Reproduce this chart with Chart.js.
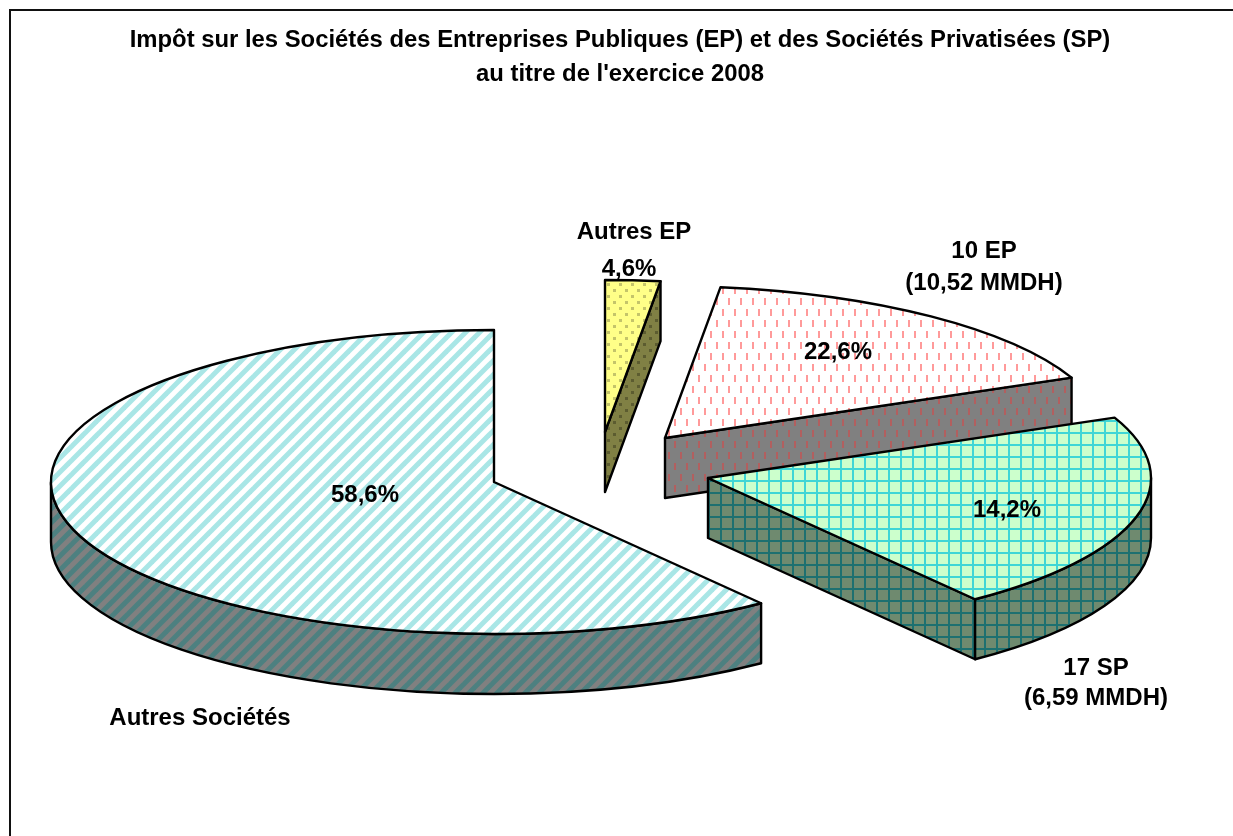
<!DOCTYPE html>
<html lang="fr">
<head>
<meta charset="utf-8">
<title>Impôt sur les Sociétés 2008</title>
<script src="https://cdn.jsdelivr.net/npm/chart.js@4"></script>
<style>
  html, body { margin: 0; padding: 0; background: #fff; }
  #wrap { position: relative; width: 1233px; height: 836px; overflow: hidden; }
  #frame { position: absolute; left: 9px; top: 9px; width: 1300px; height: 900px; border: 2px solid #111; }
  canvas { position: absolute; left: 0; top: 0; }
</style>
</head>
<body>
<div id="wrap">
  <div id="frame"></div>
  <canvas id="chart" width="1233" height="836"></canvas>
</div>
<script>
const titleLines = [
  "Impôt sur les Sociétés des Entreprises Publiques (EP) et des Sociétés Privatisées (SP)",
  "au titre de l'exercice 2008"
];
const categories = ['Autres EP', '10 EP', '17 SP', 'Autres Sociétés'];
// angles : ils ne suivent pas les pourcentages affichés
const sliceShares = [2.0, 16.5, 21.2, 60.3];
const percentLabels = ['4,6%', '22,6%', '14,2%', '58,6%'];
const amountLabels = ['', '(10,52 MMDH)', '(6,59 MMDH)', ''];

// Mise en page du faux 3D
const RADIUS = 443;
const SQUASH = 152 / 443;
const DEPTH = 60;
const apexes = [[605, 432], [665, 438], [708, 478], [494, 482]];
const drawOrder = [3, 0, 1, 2];
const FONT = 'bold 24px "Liberation Sans", Arial, sans-serif';
const percentPos = [[629, 269], [838, 352], [1007, 510], [365, 495]];
const namePos = [[634, 232], [984, 251], [1096, 668], [200, 718]];
const amountPos = [null, [984, 283], [1096, 698], null];

function makeTile(w, h, bg, paint) {
  const tile = document.createElement('canvas');
  tile.width = w;
  tile.height = h;
  const c = tile.getContext('2d');
  c.fillStyle = bg;
  c.fillRect(0, 0, w, h);
  paint(c);
  return document.getElementById('chart').getContext('2d').createPattern(tile, 'repeat');
}

function dots(bg, fg) {
  return makeTile(12, 12, bg, c => {
    c.fillStyle = fg;
    c.fillRect(1, 1, 3, 3);
    c.fillRect(7, 7, 3, 3);
  });
}

function dashes(bg, fg) {
  return makeTile(12, 22, bg, c => {
    c.fillStyle = fg;
    c.fillRect(2, 1, 2, 7);
    c.fillRect(8, 12, 2, 7);
  });
}

function grid(bg, fg) {
  return makeTile(12, 12, bg, c => {
    c.fillStyle = fg;
    c.fillRect(0, 0, 2, 12);
    c.fillRect(0, 0, 12, 2);
  });
}

function stripes(bg, fg) {
  return makeTile(14, 14, bg, c => {
    c.strokeStyle = fg;
    c.lineWidth = 5;
    [[-14, 14, 14, -14], [0, 14, 14, 0], [0, 28, 28, 0]].forEach(l => {
      c.beginPath();
      c.moveTo(l[0], l[1]);
      c.lineTo(l[2], l[3]);
      c.stroke();
    });
  });
}

const topFills = [
  dots('#ffff88', '#c4c46a'),
  dashes('#ffffff', '#ff9a9a'),
  grid('#ccffcc', '#3fd6d6'),
  stripes('#ffffff', '#a9e6e6')
];
const wallFills = [
  dots('#808044', '#5c5c30'),
  dashes('#808080', '#b25f5f'),
  grid('#6f8a6f', '#1d7070'),
  stripes('#808080', '#4d8080')
];

function pathTop(ctx, x, y, a0, a1) {
  ctx.beginPath();
  ctx.moveTo(x, y);
  ctx.ellipse(x, y, RADIUS, RADIUS * SQUASH, 0, a0, a1);
  ctx.closePath();
}

function paintPath(ctx, fill) {
  ctx.fillStyle = fill;
  ctx.fill();
  ctx.stroke();
}

// face radiale visible
function drawCut(ctx, x, y, a, fill) {
  const ex = x + RADIUS * Math.cos(a);
  const ey = y + RADIUS * SQUASH * Math.sin(a);
  ctx.beginPath();
  ctx.moveTo(x, y);
  ctx.lineTo(ex, ey);
  ctx.lineTo(ex, ey + DEPTH);
  ctx.lineTo(x, y + DEPTH);
  ctx.closePath();
  paintPath(ctx, fill);
}

// bord extérieur, seulement la partie tournée vers le bas
function drawRim(ctx, x, y, a0, a1, fill) {
  const from = Math.max(a0, 0);
  const to = Math.min(a1, Math.PI);
  if (to <= from) return;
  const ry = RADIUS * SQUASH;
  ctx.beginPath();
  ctx.ellipse(x, y, RADIUS, ry, 0, from, to);
  ctx.ellipse(x, y + DEPTH, RADIUS, ry, 0, to, from, true);
  ctx.closePath();
  paintPath(ctx, fill);
}

const tiltedPie = {
  id: 'tiltedPie',
  beforeDatasetsDraw(chart) {
    const ctx = chart.ctx;
    const arcs = chart.getDatasetMeta(0).data;
    ctx.save();
    ctx.strokeStyle = '#000';
    ctx.lineWidth = 2.4;
    ctx.lineJoin = 'round';
    drawOrder.forEach(i => {
      const a0 = arcs[i].startAngle;
      const a1 = arcs[i].endAngle;
      const x = apexes[i][0];
      const y = apexes[i][1];
      if (Math.cos(a0) < -1e-6) drawCut(ctx, x, y, a0, wallFills[i]);
      if (Math.cos(a1) > 1e-6) drawCut(ctx, x, y, a1, wallFills[i]);
      drawRim(ctx, x, y, a0, a1, wallFills[i]);
      pathTop(ctx, x, y, a0, a1);
      paintPath(ctx, arcs[i].options.backgroundColor);
    });
    ctx.restore();
    return false;
  },
  afterDraw(chart) {
    const ctx = chart.ctx;
    ctx.save();
    ctx.font = FONT;
    ctx.fillStyle = '#000';
    ctx.textAlign = 'center';
    ctx.textBaseline = 'middle';
    categories.forEach((name, i) => {
      ctx.fillText(name, namePos[i][0], namePos[i][1]);
      ctx.fillText(percentLabels[i], percentPos[i][0], percentPos[i][1]);
      if (amountPos[i]) ctx.fillText(amountLabels[i], amountPos[i][0], amountPos[i][1]);
    });
    ctx.restore();
  }
};

new Chart(document.getElementById('chart').getContext('2d'), {
  type: 'pie',
  data: {
    labels: categories,
    datasets: [{
      data: sliceShares,
      backgroundColor: topFills,
      radius: RADIUS
    }]
  },
  options: {
    responsive: false,
    animation: false,
    layout: { padding: { left: 7 } },
    plugins: {
      legend: { display: false },
      tooltip: { enabled: false },
      title: {
        display: true,
        text: titleLines,
        color: '#000',
        font: { family: '"Liberation Sans", Arial, sans-serif', size: 23.85, weight: 'bold', lineHeight: 1.4 },
        padding: { top: 24, bottom: 0 }
      }
    }
  },
  plugins: [tiltedPie]
});
</script>
</body>
</html>
